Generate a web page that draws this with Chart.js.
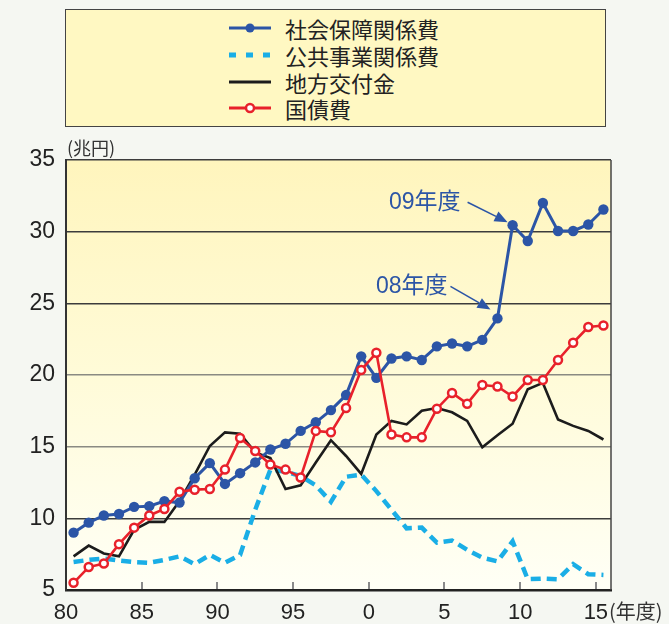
<!DOCTYPE html>
<html><head><meta charset="utf-8">
<script src="https://cdn.jsdelivr.net/npm/chart.js@4"></script>
<style>
html,body{margin:0;padding:0;background:#f5f7f2;}
#wrap{position:relative;width:669px;height:624px;overflow:hidden;background:#f5f7f2;}
#c{position:absolute;left:0;top:0;}
#legend{position:absolute;left:65px;top:9px;width:539px;height:116px;background:#fff8c2;border:1.5px solid #444;}
.row{position:absolute;left:163px;height:26px;display:flex;align-items:center;font-family:"Noto Sans CJK JP";font-size:22px;line-height:26px;color:#222;white-space:nowrap;}
.row svg{margin-right:14px;flex:none}
.unit{position:absolute;font-family:"Noto Sans CJK JP";color:#333;line-height:24px;white-space:nowrap;}
</style></head>
<body>
<div id="wrap">
<canvas id="c" width="669" height="624"></canvas>
<div id="legend">
 <div class="row" style="top:5px"><svg width="42" height="12"><line x1="0" y1="6" x2="42" y2="6" stroke="#2c55a6" stroke-width="3"/><circle cx="21" cy="6" r="4.5" fill="#2c55a6"/></svg><span id="l0"></span></div>
 <div class="row" style="top:32px"><svg width="42" height="12"><line x1="0" y1="6" x2="42" y2="6" stroke="#1aaee6" stroke-width="5" stroke-dasharray="7 10"/></svg><span id="l1"></span></div>
 <div class="row" style="top:59px"><svg width="42" height="12"><line x1="0" y1="6" x2="42" y2="6" stroke="#1c1c1c" stroke-width="3"/></svg><span id="l2"></span></div>
 <div class="row" style="top:85px"><svg width="42" height="12"><line x1="0" y1="6" x2="42" y2="6" stroke="#e8212b" stroke-width="3"/><circle cx="21" cy="6" r="4" fill="#fff" stroke="#e8212b" stroke-width="2.5"/></svg><span id="l3"></span></div>
</div>
<div class="unit" style="left:67px;top:135px;font-size:18px">(兆円)</div>
<div class="unit" style="left:609px;top:599px;font-size:20px">(年度)</div>
</div>
<script>
const years = [1980,1981,1982,1983,1984,1985,1986,1987,1988,1989,
  1990,1991,1992,1993,1994,1995,1996,1997,1998,1999,
  2000,2001,2002,2003,2004,2005,2006,2007,2008,2009,
  2010,2011,2012,2013,2014,2015];
const seriesNames = ['社会保障関係費','公共事業関係費','地方交付金','国債費'];
const socialSecurity = [9.0,9.7,10.2,10.3,10.8,10.85,11.2,11.1,12.8,13.85,
  12.4,13.15,13.9,14.8,15.2,16.1,16.7,17.55,18.6,21.3,
  19.8,21.15,21.3,21.05,22.0,22.2,22.0,22.45,23.95,30.45,
  29.35,32.0,30.05,30.05,30.5,31.55];
const publicWorks = [6.95,7.1,7.2,7.05,6.95,6.9,7.1,7.35,6.8,7.45,
  6.9,7.45,10.6,13.4,13.25,12.95,12.3,11.15,12.9,13.05,
  11.9,10.6,9.3,9.35,8.3,8.45,7.8,7.25,7.0,8.4,
  5.75,5.8,5.75,6.8,6.1,6.05];
const localGrants = [7.35,8.1,7.55,7.35,9.2,9.75,9.75,11.2,13.05,15.05,
  16.0,15.9,14.6,14.2,12.05,12.3,13.9,15.45,14.35,13.1,
  15.85,16.8,16.55,17.5,17.7,17.4,16.8,14.95,15.8,16.6,
  19.0,19.45,16.9,16.45,16.1,15.5];
const debtService = [5.5,6.6,6.85,8.2,9.35,10.2,10.65,11.85,12.0,12.05,
  13.4,15.6,14.7,13.75,13.4,12.85,16.1,16.0,17.7,20.35,
  21.55,15.85,15.65,15.65,17.65,18.75,18.0,19.3,19.2,18.5,
  19.65,19.65,21.05,22.25,23.35,23.45];
const xTickYears = [1980,1985,1990,1995,2000,2005,2010,2015];
const xTickLabels = ['80','85','90','95','0','5','10','15'];
const yTicks = [5,10,15,20,25,30,35];
const notes = [{year:2009,label:'09年度'},{year:2008,label:'08年度'}];

seriesNames.forEach((n,i)=>{document.getElementById('l'+i).textContent=n;});

const BLUE='#2c55a6', CYAN='#1aaee6', BLACK='#1c1c1c', RED='#e8212b';
const pts = arr => years.map((y,i)=>({x:y+0.5,y:arr[i]}));

const bgPlugin = {
  id:'bg',
  beforeDraw(chart){
    const {ctx,chartArea:a}=chart;
    const g=ctx.createLinearGradient(0,a.top,0,a.bottom);
    g.addColorStop(0,'#fff5bd'); g.addColorStop(0.5,'#fffbd8'); g.addColorStop(1,'#fffff6');
    ctx.save(); ctx.fillStyle=g; ctx.fillRect(a.left,a.top,a.right-a.left,a.bottom-a.top); ctx.restore();
  },
  afterDraw(chart){
    const {ctx,chartArea:a}=chart;
    const xs=chart.scales.x;
    ctx.save();
    ctx.strokeStyle='#444'; ctx.lineWidth=1.5;
    ctx.beginPath(); ctx.moveTo(a.right,a.top); ctx.lineTo(a.right,a.bottom); ctx.stroke();
    ctx.strokeStyle='#8a8a8a'; ctx.lineWidth=2;
    xTickYears.slice(1).forEach(v=>{
      const px=Math.round(xs.getPixelForValue(v));
      ctx.beginPath(); ctx.moveTo(px,a.bottom-1); ctx.lineTo(px,a.bottom-8); ctx.stroke();
    });
    ctx.restore();
  },
  afterDatasetsDraw(chart){
    const {ctx}=chart; const xs=chart.scales.x, ys=chart.scales.y;
    const cfg={2009:{tx:-52,ty:-23,sx:-45,sy:-23,ex:-5,ey:-3},2008:{tx:-50,ty:-32,sx:-47,sy:-32,ex:-7,ey:-9}};
    ctx.save();
    notes.forEach(n=>{
      const i=years.indexOf(n.year);
      const px=xs.getPixelForValue(years[i]+0.5), py=ys.getPixelForValue(socialSecurity[i]);
      const c=cfg[n.year];
      ctx.fillStyle=BLUE; ctx.strokeStyle=BLUE;
      ctx.font='23px "Liberation Sans","Noto Sans CJK JP"';
      ctx.textAlign='right'; ctx.textBaseline='middle';
      ctx.fillText(n.label,px+c.tx,py+c.ty);
      const x0=px+c.sx,y0=py+c.sy,x1=px+c.ex,y1=py+c.ey;
      const ang=Math.atan2(y1-y0,x1-x0), L=13, W=5.5;
      const bx=x1-L*Math.cos(ang), by=y1-L*Math.sin(ang);
      ctx.lineWidth=1.6;
      ctx.beginPath(); ctx.moveTo(x0,y0); ctx.lineTo(bx,by); ctx.stroke();
      ctx.beginPath(); ctx.moveTo(x1,y1);
      ctx.lineTo(bx+W*Math.sin(ang),by-W*Math.cos(ang));
      ctx.lineTo(bx-W*Math.sin(ang),by+W*Math.cos(ang));
      ctx.closePath(); ctx.fill();
    });
    ctx.restore();
  }
};

new Chart(document.getElementById('c'),{
  type:'line',
  data:{datasets:[
    {label:seriesNames[3],data:pts(debtService),borderColor:RED,borderWidth:2.6,pointRadius:4,pointBackgroundColor:'#fff',pointBorderColor:RED,pointBorderWidth:2.5,order:0},
    {label:seriesNames[0],data:pts(socialSecurity),borderColor:BLUE,borderWidth:3,pointRadius:5.2,pointBackgroundColor:BLUE,pointBorderColor:BLUE,pointBorderWidth:0,order:1},
    {label:seriesNames[2],data:pts(localGrants),borderColor:BLACK,borderWidth:2.6,pointRadius:0,order:2},
    {label:seriesNames[1],data:pts(publicWorks),borderColor:CYAN,borderWidth:4.5,borderDash:[10,6],pointRadius:0,order:3}
  ]},
  options:{
    responsive:false, animation:false, devicePixelRatio:1,
    layout:{padding:{top:160,right:58,left:0,bottom:0}},
    plugins:{legend:{display:false},tooltip:{enabled:false}},
    elements:{line:{tension:0}},
    scales:{
      x:{type:'linear',min:1980,max:2016,
        afterBuildTicks:s=>{s.ticks=xTickYears.map(v=>({value:v}));},
        afterFit:s=>{s.height=34;},
        grid:{display:false,drawTicks:false},
        border:{display:true,color:'#222',width:2.5},
        ticks:{autoSkip:false,maxRotation:0,padding:10,color:'#222',font:{family:'"Liberation Sans"',size:22},
          callback:v=>{const k=xTickYears.indexOf(v);return k<0?'':xTickLabels[k];}}
      },
      y:{min:5,max:35,
        afterBuildTicks:s=>{s.ticks=yTicks.map(v=>({value:v}));},
        afterFit:s=>{s.width=66;},
        grid:{drawTicks:false,lineWidth:1.5,color:c=>(c.tick&&(c.tick.value===15||c.tick.value===20))?'#8a8a82':'#3c3c3c'},
        border:{display:true,color:'#333',width:2},
        ticks:{padding:11,color:'#222',font:{family:'"Liberation Sans"',size:23}}
      }
    }
  },
  plugins:[bgPlugin]
});
</script>
</body></html>
